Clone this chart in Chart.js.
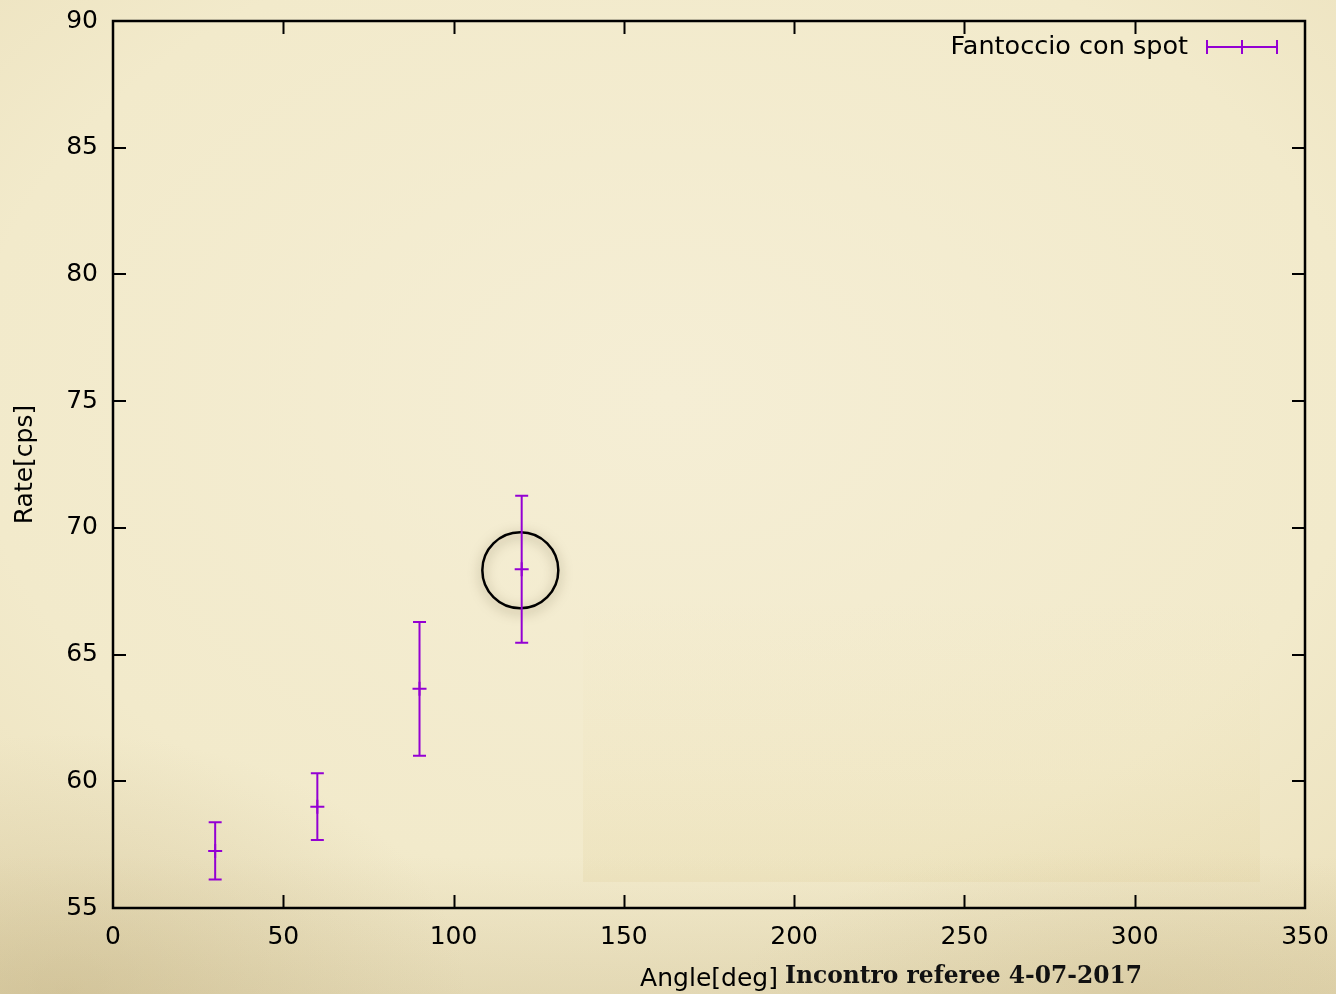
<!DOCTYPE html>
<html>
<head>
<meta charset="utf-8">
<title>Rate vs Angle</title>
<script src="https://cdn.jsdelivr.net/npm/chart.js@4/dist/chart.umd.min.js"></script>
<style>
  html, body { margin: 0; padding: 0; width: 1336px; height: 994px; overflow: hidden; }
  body {
    background:
      radial-gradient(ellipse 40% 35% at 5% 100%, rgba(175,155,105,0.28), rgba(175,155,105,0) 75%),
      radial-gradient(ellipse 40% 20% at 85% 100%, rgba(185,165,115,0.18), rgba(185,165,115,0) 75%),
      linear-gradient(to bottom, rgba(0,0,0,0) 86%, rgba(165,145,95,0.16) 100%),
      radial-gradient(ellipse 80% 75% at 50% 40%, #f5eed5 0%, #f2eacb 65%, #ebe0bb 100%);
  }
  #wrap { position: relative; width: 1336px; height: 994px; }
  .patch {
    position: absolute; left: 583px; top: 600px; width: 677px; height: 282px;
    background: linear-gradient(to bottom, rgba(225,205,140,0.0) 0%, rgba(225,205,140,0.08) 60%, rgba(215,195,130,0.16) 100%);
  }
  canvas { position: absolute; left: 0; top: 0; }
</style>
</head>
<body>
<div id="wrap">
  <div class="patch"></div>
  <canvas id="chart" width="1336" height="994"></canvas>
</div>
<script>
// Measured rate versus rotation angle, with statistical errors
const angles = [30, 60, 90, 120];
const rates = [57.25, 59.0, 63.65, 68.37];
const rateErrors = [1.13, 1.32, 2.64, 2.9];

// Circled measurement
const highlightPoint = [{ x: 119.6, y: 68.33 }];

// Axis ticks
const xTickValues = [0, 50, 100, 150, 200, 250, 300, 350];
const yTickValues = [55, 60, 65, 70, 75, 80, 85, 90];

const seriesLabel = 'Fantoccio con spot';
const footerText = 'Incontro referee 4-07-2017';

const PURPLE = '#9400d3';
const FONT = '"DejaVu Sans", "Liberation Sans", sans-serif';
const FONT_SIZE = 25;
const TICK_LEN = 13;

// Keep the plot box fixed: no extra room for overhanging tick labels
function clearScalePadding(scale) {
  scale.paddingTop = 0;
  scale.paddingBottom = 0;
  scale.paddingLeft = 0;
  scale.paddingRight = 0;
}

// Frame with inward ticks on all four sides
const framePlugin = {
  id: 'frame',
  beforeDatasetsDraw(chart) {
    const { ctx, chartArea: a, scales: { x, y } } = chart;
    ctx.save();
    ctx.strokeStyle = '#000';
    ctx.lineWidth = 2;
    ctx.beginPath();
    xTickValues.forEach(v => {
      const px = Math.round(x.getPixelForValue(v)) + 0.5;
      if (v === x.min || v === x.max) return;
      ctx.moveTo(px, a.bottom); ctx.lineTo(px, a.bottom - TICK_LEN);
      ctx.moveTo(px, a.top); ctx.lineTo(px, a.top + TICK_LEN);
    });
    yTickValues.forEach(v => {
      const py = Math.round(y.getPixelForValue(v));
      if (v === y.min || v === y.max) return;
      ctx.moveTo(a.left, py); ctx.lineTo(a.left + TICK_LEN, py);
      ctx.moveTo(a.right, py); ctx.lineTo(a.right - TICK_LEN, py);
    });
    ctx.stroke();
    ctx.lineWidth = 2.5;
    ctx.strokeRect(a.left, a.top, a.right - a.left, a.bottom - a.top);
    ctx.restore();
  }
};

// Vertical error bars with caps
const errorBarPlugin = {
  id: 'errorBars',
  afterDatasetsDraw(chart) {
    const { ctx, scales: { x, y } } = chart;
    const cap = 6.5;
    ctx.save();
    ctx.strokeStyle = PURPLE;
    ctx.lineWidth = 2;
    ctx.beginPath();
    angles.forEach((a, i) => {
      const px = x.getPixelForValue(a);
      const top = y.getPixelForValue(rates[i] + rateErrors[i]);
      const bot = y.getPixelForValue(rates[i] - rateErrors[i]);
      ctx.moveTo(px, top); ctx.lineTo(px, bot);
      ctx.moveTo(px - cap, top); ctx.lineTo(px + cap, top);
      ctx.moveTo(px - cap, bot); ctx.lineTo(px + cap, bot);
    });
    ctx.stroke();
    ctx.restore();
  }
};

// Soft shadow under the highlight ring
const shadowPlugin = {
  id: 'ringShadow',
  beforeDatasetDraw(chart, args) {
    if (args.index !== 0) return;
    const ctx = chart.ctx;
    ctx.save();
    ctx.shadowColor = 'rgba(70,55,20,0.5)';
    ctx.shadowBlur = 12;
    ctx.shadowOffsetX = 0;
    ctx.shadowOffsetY = 3;
  },
  afterDatasetDraw(chart, args) {
    if (args.index !== 0) return;
    chart.ctx.restore();
  }
};

// Key in the top right corner and footer line
const keyPlugin = {
  id: 'key',
  afterDraw(chart) {
    const { ctx } = chart;
    const yMid = 47;
    ctx.save();
    ctx.fillStyle = '#000';
    ctx.font = '25.5px ' + FONT;
    ctx.textAlign = 'right';
    ctx.textBaseline = 'middle';
    ctx.fillText(chart.data.datasets[1].label, 1188, yMid);

    ctx.strokeStyle = PURPLE;
    ctx.lineWidth = 2;
    ctx.beginPath();
    ctx.moveTo(1207, yMid); ctx.lineTo(1277, yMid);
    ctx.moveTo(1207, yMid - 7); ctx.lineTo(1207, yMid + 7);
    ctx.moveTo(1277, yMid - 7); ctx.lineTo(1277, yMid + 7);
    ctx.moveTo(1242, yMid - 7); ctx.lineTo(1242, yMid + 7);
    ctx.stroke();

    ctx.font = 'bold 24px "DejaVu Serif", "Liberation Serif", serif';
    ctx.textAlign = 'left';
    ctx.textBaseline = 'alphabetic';
    ctx.fillStyle = '#111';
    ctx.fillText(footerText, 785, 983, 357);
    ctx.restore();
  }
};

new Chart(document.getElementById('chart'), {
  type: 'scatter',
  data: {
    datasets: [
      {
        label: 'highlight',
        data: highlightPoint,
        pointStyle: 'circle',
        pointRadius: 38,
        pointHoverRadius: 38,
        backgroundColor: 'rgba(0,0,0,0)',
        borderColor: '#000',
        borderWidth: 2.5
      },
      {
        label: seriesLabel,
        data: angles.map((a, i) => ({ x: a, y: rates[i] })),
        pointStyle: 'cross',
        pointRadius: 7,
        pointHoverRadius: 7,
        borderColor: PURPLE,
        backgroundColor: PURPLE,
        borderWidth: 2
      }
    ]
  },
  options: {
    responsive: false,
    animation: false,
    events: [],
    layout: { autoPadding: false, padding: { top: 21, right: 31, left: 0, bottom: 0 } },
    plugins: {
      legend: { display: false },
      tooltip: { enabled: false }
    },
    scales: {
      x: {
        type: 'linear',
        position: 'bottom',
        min: 0,
        max: 350,
        grid: { display: false, drawTicks: false },
        border: { display: false },
        afterBuildTicks(scale) { scale.ticks = xTickValues.map(v => ({ value: v })); },
        afterFit(scale) { scale.height = 86; clearScalePadding(scale); },
        ticks: {
          color: '#000',
          font: { family: FONT, size: FONT_SIZE },
          padding: 14,
          maxRotation: 0,
          autoSkip: false
        },
        title: {
          display: true,
          text: 'Angle[deg]',
          color: '#000',
          font: { family: FONT, size: FONT_SIZE },
          padding: { top: 1, bottom: 0 }
        }
      },
      y: {
        type: 'linear',
        position: 'left',
        min: 55,
        max: 90,
        grid: { display: false, drawTicks: false },
        border: { display: false },
        afterBuildTicks(scale) { scale.ticks = yTickValues.map(v => ({ value: v })); },
        afterFit(scale) { scale.width = 113; clearScalePadding(scale); },
        ticks: {
          color: '#000',
          font: { family: FONT, size: FONT_SIZE },
          padding: 15,
          autoSkip: false
        },
        title: {
          display: true,
          text: 'Rate[cps]',
          color: '#000',
          font: { family: FONT, size: FONT_SIZE },
          padding: { top: 10, bottom: 0 }
        }
      }
    }
  },
  plugins: [framePlugin, shadowPlugin, errorBarPlugin, keyPlugin]
});
</script>
</body>
</html>
